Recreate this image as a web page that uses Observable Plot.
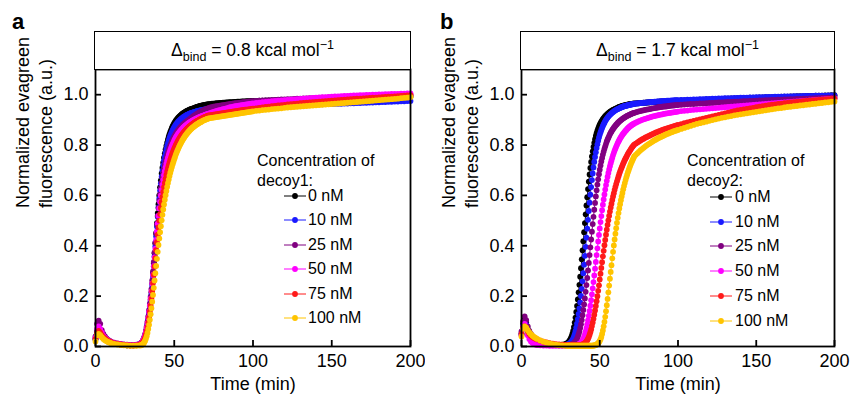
<!DOCTYPE html>
<html><head><meta charset="utf-8">
<script src="https://cdn.jsdelivr.net/npm/d3@7"></script>
<script src="https://cdn.jsdelivr.net/npm/@observablehq/plot@0.6"></script>
<style>
body{margin:0;background:#fff;font-family:"Liberation Sans",Arial,Helvetica,sans-serif;color:#000;}
#fig{position:relative;width:850px;height:395px;overflow:hidden;background:#fff;}
.panel{position:absolute;top:0;width:425px;height:395px;}
.panel > svg{position:absolute;left:0;top:0;}
.letter{position:absolute;font-weight:bold;font-size:22px;line-height:22px;}
.titlebox{position:absolute;box-sizing:border-box;border:1.8px solid #000;display:flex;align-items:center;justify-content:center;font-size:17.5px;background:#fff;}
.titlebox sub,.titlebox sup{font-size:12.5px;line-height:0;}
.legtitle{position:absolute;font-size:16px;line-height:20px;white-space:nowrap;}
.legrow{position:absolute;display:flex;align-items:center;height:20px;font-size:16px;white-space:nowrap;}
.legrow svg{flex:none;display:block;}
#err{position:absolute;left:0;top:0;color:red;font-size:12px;}
</style></head>
<body>
<div id="fig"></div>
<script>
// ---- data ----
const TIME = [0,1,2,3,4,5,6,7,8,9,10,
12,14,16,18,20,22,24,26,28,
29,29.5,30,30.5,31,31.5,32,32.5,33,33.5,
34,34.5,35,35.5,36,36.5,37,37.5,38,38.5,
39,39.5,40,40.5,41,41.5,42,42.5,43,43.5,
44,44.5,45,45.5,46,46.5,47,47.5,48,48.5,
49,49.5,50,50.5,51,51.5,52,52.5,53,53.5,
54,54.5,55,55.5,56,56.5,57,57.5,58,58.5,
59,59.5,60,60.5,61,61.5,62,62.5,63,63.5,
64,64.5,65,65.5,66,66.5,67,67.5,68,68.5,
69,69.5,70,70.5,71,71.5,72,
73,74,75,76,77,78,79,80,81,82,83,84,85,86,87,88,89,90,91,92,93,94,95,96,97,98,99,100,
102,104,106,108,110,112,114,116,118,120,
122,124,126,128,130,132,134,136,138,140,
142,144,146,148,150,152,154,156,158,160,
162,164,166,168,170,172,174,176,178,180,
182,184,186,188,190,192,194,196,198,200];

const CONCENTRATIONS = ["0 nM","10 nM","25 nM","50 nM","75 nM","100 nM"];
const COLORS = ["#000000","#1a1aff","#800080","#ff00ff","#ff1a1a","#ffc400"];
const X_TICKS = [0,50,100,150,200];
const Y_TICKS = [0,0.2,0.4,0.6,0.8,1.0];

// Panel a: decoy1
const a0 = [0.03,0.06,0.07,0.06,0.045,0.035,0.03,0.025,0.02,0.018,0.015,
0.012,0.01,0.008,0.006,0.005,0.005,0.005,0.006,0.01,
0.013,0.016,0.02,0.027,0.035,0.045,0.058,0.073,0.09,0.11,
0.133,0.158,0.185,0.215,0.25,0.29,0.33,0.37,0.41,0.45,
0.49,0.53,0.565,0.6,0.632,0.66,0.687,0.71,0.73,0.75,
0.767,0.783,0.797,0.81,0.822,0.833,0.843,0.852,0.86,0.868,
0.875,0.881,0.887,0.892,0.897,0.901,0.905,0.909,0.912,0.915,
0.918,0.921,0.924,0.926,0.928,0.93,0.932,0.934,0.936,0.937,
0.939,0.94,0.942,0.943,0.944,0.945,0.946,0.947,0.948,0.949,
0.95,0.951,0.952,0.953,0.954,0.955,0.956,0.956,0.957,0.958,
0.958,0.959,0.96,0.96,0.961,0.961,0.962,
0.963,0.964,0.964,0.965,0.966,0.966,0.967,0.967,0.968,0.968,0.969,0.969,0.97,0.97,0.97,0.971,0.971,0.972,0.972,0.972,0.973,0.973,0.973,0.974,0.974,0.974,0.975,0.975,
0.975,0.976,0.976,0.977,0.977,0.977,0.978,0.978,0.978,0.979,
0.979,0.979,0.98,0.98,0.98,0.981,0.981,0.981,0.982,0.982,
0.982,0.983,0.983,0.983,0.984,0.984,0.984,0.985,0.985,0.985,
0.986,0.986,0.986,0.987,0.987,0.987,0.988,0.988,0.988,0.989,
0.989,0.989,0.99,0.99,0.99,0.99,0.991,0.991,0.991,0.992];

const a10 = [0.03,0.06,0.07,0.06,0.045,0.035,0.03,0.025,0.02,0.018,0.015,
0.012,0.01,0.008,0.006,0.005,0.005,0.005,0.006,0.009,
0.012,0.015,0.019,0.025,0.032,0.042,0.054,0.068,0.085,0.104,
0.126,0.15,0.177,0.206,0.24,0.278,0.318,0.358,0.398,0.438,
0.477,0.515,0.552,0.587,0.619,0.648,0.674,0.698,0.719,0.738,
0.755,0.77,0.784,0.797,0.808,0.818,0.828,0.837,0.845,0.852,
0.859,0.865,0.871,0.876,0.881,0.885,0.889,0.893,0.896,0.899,
0.902,0.905,0.907,0.91,0.912,0.914,0.916,0.918,0.92,0.921,
0.923,0.924,0.926,0.927,0.928,0.929,0.93,0.931,0.932,0.933,
0.934,0.935,0.936,0.937,0.937,0.938,0.939,0.939,0.94,0.941,
0.941,0.942,0.942,0.943,0.943,0.944,0.944,
0.945,0.945,0.946,0.946,0.947,0.947,0.948,0.948,0.948,0.949,0.949,0.95,0.95,0.95,0.951,0.951,0.951,0.952,0.952,0.952,0.953,0.953,0.953,0.954,0.954,0.954,0.955,0.955,
0.955,0.956,0.956,0.956,0.957,0.957,0.957,0.958,0.958,0.958,
0.959,0.959,0.959,0.96,0.96,0.96,0.961,0.961,0.961,0.962,
0.962,0.962,0.963,0.963,0.963,0.964,0.964,0.964,0.965,0.965,
0.966,0.966,0.967,0.967,0.968,0.968,0.969,0.969,0.97,0.97,
0.971,0.971,0.972,0.972,0.973,0.973,0.974,0.974,0.975,0.975];

const a25 = [0.04,0.09,0.103,0.09,0.065,0.05,0.04,0.032,0.026,0.022,0.019,
0.015,0.012,0.01,0.008,0.007,0.006,0.006,0.007,0.01,
0.013,0.017,0.022,0.029,0.038,0.049,0.063,0.079,0.098,0.12,
0.144,0.17,0.198,0.228,0.262,0.298,0.336,0.374,0.412,0.449,
0.485,0.519,0.55,0.579,0.605,0.629,0.651,0.671,0.689,0.706,
0.721,0.735,0.748,0.76,0.771,0.781,0.79,0.799,0.807,0.814,
0.821,0.828,0.834,0.84,0.845,0.85,0.855,0.859,0.863,0.867,
0.871,0.874,0.878,0.881,0.884,0.887,0.889,0.892,0.894,0.897,
0.899,0.901,0.904,0.906,0.909,0.911,0.914,0.916,0.918,0.92,
0.922,0.924,0.926,0.928,0.93,0.931,0.933,0.935,0.936,0.938,
0.939,0.941,0.942,0.943,0.945,0.946,0.947,
0.949,0.95,0.952,0.953,0.954,0.955,0.956,0.957,0.958,0.959,0.96,0.961,0.962,0.963,0.964,0.965,0.966,0.966,0.967,0.968,0.969,0.97,0.97,0.971,0.972,0.973,0.973,0.974,
0.975,0.976,0.977,0.977,0.978,0.979,0.979,0.98,0.981,0.981,
0.982,0.982,0.983,0.984,0.984,0.985,0.985,0.986,0.986,0.987,
0.987,0.988,0.988,0.989,0.989,0.99,0.99,0.991,0.991,0.992,
0.992,0.993,0.993,0.993,0.994,0.994,0.995,0.995,0.995,0.996,
0.996,0.997,0.997,0.997,0.998,0.998,0.998,0.999,0.999,1.0];

const a50 = [0.035,0.07,0.08,0.07,0.055,0.042,0.034,0.028,0.023,0.02,0.017,
0.013,0.011,0.009,0.007,0.006,0.005,0.005,0.006,0.009,
0.012,0.016,0.021,0.027,0.035,0.046,0.059,0.075,0.093,0.114,
0.137,0.162,0.19,0.219,0.25,0.284,0.319,0.354,0.389,0.423,
0.457,0.489,0.519,0.548,0.574,0.599,0.622,0.643,0.662,0.68,
0.696,0.711,0.725,0.738,0.75,0.761,0.771,0.78,0.789,0.797,
0.804,0.811,0.818,0.824,0.83,0.835,0.84,0.845,0.849,0.853,
0.857,0.861,0.864,0.868,0.871,0.874,0.877,0.879,0.882,0.884,
0.887,0.889,0.891,0.893,0.895,0.897,0.899,0.9,0.902,0.904,
0.905,0.907,0.908,0.91,0.911,0.912,0.914,0.915,0.916,0.917,
0.918,0.92,0.921,0.922,0.923,0.924,0.925,
0.928,0.93,0.932,0.934,0.936,0.938,0.939,0.941,0.943,0.944,0.946,0.947,0.949,0.95,0.951,0.953,0.954,0.955,0.956,0.957,0.958,0.959,0.96,0.961,0.962,0.963,0.964,0.965,
0.967,0.968,0.97,0.971,0.972,0.974,0.975,0.976,0.977,0.978,
0.979,0.98,0.981,0.982,0.983,0.984,0.985,0.986,0.987,0.988,
0.989,0.99,0.99,0.991,0.992,0.993,0.993,0.994,0.995,0.995,
0.996,0.997,0.997,0.998,0.998,0.999,0.999,1.0,1.0,1.001,
1.001,1.002,1.002,1.003,1.003,1.003,1.004,1.004,1.005,1.005];

const a75 = [0.03,0.055,0.062,0.055,0.045,0.037,0.031,0.026,0.022,0.019,0.016,
0.012,0.01,0.008,0.006,0.005,0.004,0.004,0.005,0.007,
0.009,0.012,0.016,0.021,0.028,0.037,0.048,0.061,0.077,0.095,
0.115,0.138,0.163,0.19,0.22,0.252,0.285,0.318,0.351,0.383,
0.414,0.444,0.473,0.5,0.526,0.55,0.573,0.594,0.614,0.633,
0.65,0.666,0.681,0.695,0.708,0.72,0.731,0.742,0.752,0.761,
0.77,0.778,0.786,0.793,0.8,0.806,0.812,0.818,0.823,0.828,
0.833,0.838,0.842,0.846,0.85,0.854,0.857,0.861,0.864,0.867,
0.87,0.873,0.876,0.878,0.881,0.883,0.885,0.888,0.89,0.892,
0.894,0.896,0.897,0.899,0.901,0.903,0.904,0.906,0.907,0.909,
0.91,0.912,0.913,0.914,0.916,0.917,0.918,
0.919,0.92,0.921,0.922,0.923,0.924,0.925,0.926,0.927,0.928,0.929,0.93,0.931,0.932,0.933,0.934,0.935,0.936,0.937,0.938,0.939,0.94,0.941,0.941,0.942,0.943,0.944,0.945,
0.946,0.948,0.949,0.951,0.952,0.954,0.955,0.957,0.958,0.959,
0.961,0.962,0.963,0.964,0.966,0.967,0.968,0.969,0.97,0.971,
0.972,0.973,0.974,0.975,0.976,0.977,0.978,0.979,0.98,0.981,
0.982,0.983,0.984,0.984,0.985,0.986,0.987,0.988,0.988,0.989,
0.99,0.991,0.992,0.992,0.993,0.994,0.995,0.996,0.997,0.998];

const a100 = [0.02,0.045,0.05,0.045,0.037,0.03,0.025,0.021,0.018,0.015,0.013,
0.01,0.008,0.006,0.005,0.004,0.003,0.003,0.003,0.004,
0.005,0.007,0.009,0.012,0.017,0.023,0.031,0.041,0.054,0.069,
0.086,0.106,0.128,0.152,0.178,0.205,0.233,0.262,0.291,0.32,
0.348,0.376,0.403,0.429,0.454,0.478,0.501,0.523,0.544,0.564,
0.583,0.601,0.618,0.634,0.649,0.663,0.677,0.69,0.702,0.713,
0.724,0.734,0.744,0.753,0.762,0.77,0.778,0.785,0.792,0.799,
0.805,0.811,0.817,0.822,0.827,0.832,0.837,0.841,0.845,0.849,
0.853,0.856,0.86,0.863,0.866,0.869,0.871,0.874,0.876,0.879,
0.881,0.883,0.885,0.887,0.889,0.891,0.892,0.894,0.896,0.897,
0.899,0.9,0.901,0.903,0.904,0.905,0.906,
0.907,0.908,0.909,0.91,0.911,0.912,0.913,0.914,0.915,0.916,0.917,0.918,0.919,0.92,0.921,0.922,0.923,0.924,0.925,0.926,0.927,0.928,0.929,0.93,0.931,0.932,0.933,0.934,
0.936,0.937,0.939,0.94,0.941,0.943,0.944,0.945,0.946,0.948,
0.949,0.95,0.951,0.952,0.953,0.954,0.955,0.956,0.957,0.958,
0.959,0.96,0.961,0.962,0.963,0.964,0.965,0.966,0.967,0.968,
0.969,0.97,0.971,0.972,0.973,0.974,0.975,0.976,0.977,0.978,
0.979,0.98,0.981,0.982,0.983,0.984,0.986,0.987,0.988,0.99];

// Panel b: decoy2
const b0 = [0.05,0.09,0.11,0.095,0.07,0.055,0.045,0.037,0.031,0.027,0.023,
0.018,0.014,0.011,0.009,0.007,0.006,0.006,0.007,0.01,
0.012,0.014,0.017,0.021,0.026,0.032,0.04,0.05,0.062,0.077,
0.095,0.115,0.137,0.161,0.187,0.215,0.245,0.277,0.311,0.346,
0.382,0.418,0.454,0.49,0.525,0.56,0.593,0.625,0.655,0.683,
0.709,0.733,0.755,0.775,0.793,0.809,0.823,0.836,0.847,0.857,
0.866,0.874,0.881,0.887,0.893,0.898,0.903,0.907,0.911,0.915,
0.918,0.921,0.924,0.927,0.929,0.932,0.934,0.936,0.938,0.94,
0.941,0.943,0.944,0.946,0.947,0.948,0.95,0.951,0.952,0.953,
0.954,0.955,0.956,0.957,0.957,0.958,0.959,0.96,0.96,0.961,
0.962,0.962,0.963,0.963,0.964,0.964,0.965,
0.965,0.966,0.966,0.967,0.967,0.968,0.968,0.969,0.969,0.97,0.97,0.971,0.971,0.971,0.972,0.972,0.973,0.973,0.973,0.974,0.974,0.974,0.975,0.975,0.975,0.976,0.976,0.976,
0.977,0.977,0.978,0.978,0.979,0.979,0.98,0.98,0.981,0.981,
0.982,0.982,0.983,0.983,0.984,0.984,0.985,0.985,0.986,0.986,
0.987,0.987,0.988,0.988,0.988,0.989,0.989,0.99,0.99,0.99,
0.991,0.991,0.992,0.992,0.992,0.993,0.993,0.994,0.994,0.994,
0.995,0.995,0.995,0.996,0.996,0.996,0.997,0.997,0.998,0.998];

const b10 = [0.05,0.085,0.1,0.088,0.066,0.052,0.043,0.036,0.03,0.026,0.022,
0.017,0.013,0.01,0.008,0.007,0.006,0.005,0.005,0.006,
0.007,0.008,0.009,0.011,0.013,0.016,0.02,0.025,0.031,0.039,
0.049,0.061,0.075,0.091,0.109,0.129,0.151,0.175,0.201,0.229,
0.259,0.291,0.325,0.36,0.396,0.432,0.468,0.503,0.538,0.571,
0.603,0.633,0.661,0.687,0.711,0.733,0.753,0.771,0.788,0.803,
0.817,0.83,0.841,0.851,0.86,0.868,0.876,0.883,0.889,0.895,
0.9,0.905,0.909,0.913,0.917,0.92,0.923,0.926,0.929,0.931,
0.934,0.936,0.938,0.94,0.942,0.943,0.945,0.946,0.948,0.949,
0.95,0.951,0.953,0.954,0.955,0.956,0.956,0.957,0.958,0.959,
0.96,0.96,0.961,0.962,0.962,0.963,0.964,
0.965,0.965,0.966,0.967,0.967,0.968,0.968,0.969,0.97,0.97,0.971,0.971,0.972,0.972,0.973,0.973,0.974,0.974,0.975,0.975,0.976,0.976,0.976,0.977,0.977,0.978,0.978,0.978,
0.979,0.979,0.98,0.98,0.981,0.981,0.982,0.982,0.983,0.983,
0.984,0.984,0.985,0.985,0.986,0.986,0.986,0.987,0.987,0.988,
0.988,0.988,0.989,0.989,0.99,0.99,0.99,0.991,0.991,0.991,
0.992,0.992,0.992,0.993,0.993,0.993,0.994,0.994,0.994,0.995,
0.995,0.995,0.995,0.996,0.996,0.996,0.996,0.997,0.997,0.997];

const b25 = [0.06,0.1,0.12,0.105,0.08,0.062,0.05,0.041,0.034,0.029,0.025,
0.019,0.015,0.011,0.009,0.007,0.006,0.005,0.005,0.005,
0.005,0.005,0.005,0.006,0.006,0.007,0.008,0.009,0.011,0.013,
0.016,0.02,0.025,0.031,0.039,0.049,0.06,0.073,0.088,0.105,
0.124,0.145,0.167,0.191,0.217,0.244,0.272,0.302,0.332,0.363,
0.394,0.425,0.456,0.486,0.515,0.543,0.57,0.596,0.62,0.643,
0.664,0.684,0.702,0.719,0.735,0.749,0.762,0.774,0.785,0.795,
0.805,0.814,0.822,0.829,0.836,0.843,0.849,0.854,0.86,0.864,
0.869,0.873,0.877,0.881,0.884,0.888,0.891,0.894,0.896,0.899,
0.901,0.904,0.906,0.908,0.91,0.912,0.914,0.916,0.917,0.919,
0.92,0.922,0.923,0.925,0.926,0.927,0.928,
0.93,0.932,0.934,0.935,0.937,0.938,0.94,0.941,0.942,0.943,0.945,0.946,0.947,0.948,0.949,0.95,0.951,0.952,0.953,0.953,0.954,0.955,0.956,0.957,0.957,0.958,0.959,0.959,
0.96,0.961,0.962,0.963,0.963,0.964,0.965,0.965,0.966,0.967,
0.967,0.968,0.969,0.969,0.97,0.971,0.971,0.972,0.972,0.973,
0.974,0.974,0.975,0.975,0.976,0.977,0.977,0.978,0.978,0.979,
0.979,0.98,0.98,0.981,0.981,0.982,0.982,0.983,0.983,0.984,
0.984,0.985,0.985,0.986,0.986,0.987,0.987,0.988,0.988,0.989];

const b50 = [0.045,0.08,0.09,0.07,0.045,0.03,0.02,0.014,0.01,0.008,0.006,
0.005,0.004,0.004,0.003,0.003,0.003,0.003,0.003,0.003,
0.003,0.003,0.003,0.003,0.003,0.003,0.003,0.003,0.004,0.004,
0.004,0.005,0.005,0.006,0.007,0.008,0.01,0.012,0.015,0.019,
0.024,0.03,0.038,0.048,0.06,0.073,0.088,0.104,0.122,0.141,
0.162,0.184,0.207,0.231,0.256,0.282,0.309,0.336,0.363,0.39,
0.417,0.443,0.469,0.494,0.518,0.541,0.563,0.584,0.604,0.623,
0.641,0.658,0.674,0.689,0.703,0.716,0.728,0.739,0.75,0.76,
0.769,0.778,0.786,0.794,0.801,0.808,0.814,0.82,0.826,0.831,
0.836,0.841,0.845,0.849,0.853,0.857,0.86,0.864,0.867,0.87,
0.873,0.875,0.878,0.88,0.882,0.884,0.886,
0.889,0.892,0.895,0.897,0.9,0.902,0.904,0.906,0.908,0.91,0.912,0.914,0.915,0.917,0.918,0.92,0.921,0.922,0.924,0.925,0.926,0.927,0.928,0.929,0.93,0.931,0.932,0.933,
0.935,0.936,0.937,0.939,0.94,0.941,0.942,0.943,0.944,0.945,
0.946,0.947,0.948,0.949,0.95,0.951,0.952,0.953,0.954,0.955,
0.956,0.957,0.958,0.959,0.96,0.961,0.962,0.963,0.964,0.965,
0.966,0.967,0.968,0.969,0.97,0.971,0.972,0.973,0.974,0.975,
0.976,0.977,0.978,0.979,0.98,0.981,0.982,0.983,0.984,0.985];

const b75 = [0.05,0.075,0.08,0.072,0.06,0.05,0.043,0.038,0.034,0.031,0.028,
0.023,0.019,0.016,0.013,0.011,0.009,0.008,0.007,0.006,
0.006,0.006,0.005,0.005,0.005,0.005,0.005,0.005,0.005,0.005,
0.005,0.005,0.005,0.005,0.005,0.005,0.005,0.006,0.006,0.007,
0.008,0.009,0.011,0.013,0.016,0.02,0.025,0.031,0.038,0.047,
0.057,0.068,0.081,0.095,0.11,0.126,0.143,0.161,0.18,0.2,
0.221,0.243,0.266,0.289,0.312,0.335,0.358,0.38,0.402,0.423,
0.444,0.464,0.483,0.501,0.519,0.536,0.552,0.567,0.582,0.596,
0.609,0.622,0.634,0.645,0.656,0.666,0.676,0.686,0.695,0.703,
0.711,0.719,0.727,0.734,0.741,0.747,0.753,0.759,0.765,0.77,
0.775,0.78,0.785,0.79,0.794,0.798,0.802,
0.806,0.81,0.814,0.818,0.822,0.825,0.829,0.832,0.835,0.838,0.841,0.844,0.847,0.85,0.852,0.855,0.857,0.86,0.862,0.864,0.866,0.868,0.87,0.872,0.874,0.876,0.878,0.88,
0.883,0.887,0.89,0.893,0.896,0.899,0.902,0.905,0.908,0.911,
0.914,0.917,0.92,0.923,0.926,0.929,0.932,0.935,0.938,0.94,
0.942,0.944,0.946,0.948,0.95,0.952,0.954,0.956,0.958,0.96,
0.961,0.963,0.964,0.966,0.967,0.969,0.97,0.971,0.972,0.974,
0.975,0.976,0.977,0.978,0.979,0.98,0.981,0.982,0.983,0.984];

const b100 = [0.04,0.07,0.08,0.075,0.065,0.056,0.049,0.043,0.038,0.034,0.03,
0.024,0.019,0.015,0.012,0.009,0.007,0.005,0.004,0.003,
0.003,0.003,0.003,0.003,0.003,0.003,0.003,0.003,0.003,0.003,
0.003,0.003,0.003,0.003,0.003,0.003,0.003,0.003,0.003,0.003,
0.003,0.003,0.003,0.003,0.003,0.003,0.003,0.003,0.003,0.003,
0.003,0.003,0.003,0.003,0.004,0.004,0.005,0.006,0.008,0.01,
0.013,0.017,0.022,0.029,0.038,0.05,0.064,0.08,0.098,0.118,
0.14,0.164,0.189,0.215,0.242,0.269,0.296,0.323,0.35,0.376,
0.401,0.425,0.448,0.47,0.491,0.511,0.53,0.548,0.565,0.581,
0.596,0.61,0.624,0.637,0.649,0.661,0.672,0.682,0.692,0.701,
0.71,0.719,0.727,0.734,0.741,0.748,0.755,
0.761,0.767,0.773,0.779,0.784,0.789,0.794,0.799,0.803,0.807,0.811,0.815,0.819,0.822,0.826,0.829,0.832,0.835,0.838,0.841,0.844,0.846,0.849,0.851,0.854,0.856,0.858,0.86,
0.864,0.868,0.872,0.876,0.88,0.884,0.887,0.89,0.893,0.896,
0.899,0.902,0.905,0.908,0.91,0.913,0.915,0.918,0.92,0.922,
0.924,0.926,0.928,0.93,0.932,0.934,0.936,0.938,0.94,0.942,
0.944,0.946,0.947,0.949,0.951,0.952,0.954,0.955,0.957,0.958,
0.96,0.961,0.963,0.964,0.966,0.967,0.969,0.97,0.972,0.973];

const PANEL_A_SERIES = [a0,a10,a25,a50,a75,a100];
const PANEL_B_SERIES = [b0,b10,b25,b50,b75,b100];

// ---- drawing ----
const FONT = '"Liberation Sans", Arial, Helvetica, sans-serif';
const fig = document.getElementById("fig");
const W = 425, H = 395, MT = 69, MB = 49, TICK = 6;

function buildRows(seriesList) {
  const rows = [];
  seriesList.forEach((vals, k) => {
    vals.forEach((v, i) => rows.push({t: TIME[i], v, c: CONCENTRATIONS[k]}));
  });
  return rows;
}

function makePlot(seriesList, mL, mR) {
  const rows = buildRows(seriesList);
  const plotW = W - mL - mR, plotH = H - MT - MB;
  return Plot.plot({
    width: W, height: H,
    marginLeft: mL, marginRight: mR, marginTop: MT, marginBottom: MB,
    style: {fontFamily: FONT, fontSize: "18px", background: "transparent", color: "#000"},
    x: {domain: [0, 200]},
    y: {domain: [0, 1.1]},
    color: {domain: CONCENTRATIONS, range: COLORS},
    marks: [
      Plot.line(rows, {x: "t", y: "v", z: "c", stroke: "c", strokeWidth: 1}),
      Plot.dot(rows, {x: "t", y: "v", fill: "c", r: 2.9}),
      Plot.frame({stroke: "#000", strokeWidth: 1.8}),
      // inward tick marks
      Plot.ruleX(X_TICKS, {x: d => d, insetTop: plotH - TICK, stroke: "#000", strokeWidth: 1.8}),
      Plot.ruleY(Y_TICKS, {y: d => d, insetRight: plotW - TICK, stroke: "#000", strokeWidth: 1.8}),
      Plot.axisX({ticks: X_TICKS, tickSize: 0, tickPadding: 8, label: null, tickFormat: d => String(d), fontSize: 18}),
      Plot.axisY({ticks: Y_TICKS, tickSize: 0, tickPadding: 7, label: null, tickFormat: d => d.toFixed(1), fontSize: 18}),
      Plot.text(["Normalized evagreen\nfluorescence (a.u.)"], {frameAnchor: "left", rotate: -90, dx: -62, lineHeight: 1.25, fontSize: 18}),
      Plot.text(["Time (min)"], {frameAnchor: "bottom", dy: 43, fontSize: 18})
    ]
  });
}

function addPanel(opts) {
  const p = document.createElement("div");
  p.className = "panel";
  p.style.left = opts.left + "px";
  fig.appendChild(p);
  p.appendChild(makePlot(opts.series, opts.mL, opts.mR));

  const L = document.createElement("div");
  L.className = "letter"; L.textContent = opts.letter;
  L.style.left = opts.letterX + "px"; L.style.top = "11px";
  p.appendChild(L);

  const T = document.createElement("div");
  T.className = "titlebox";
  T.style.left = (opts.mL - 0.9) + "px";
  T.style.width = (W - opts.mL - opts.mR + 1.8) + "px";
  T.style.top = "31.2px"; T.style.height = "38.7px";
  T.innerHTML = '<span>\u0394<sub>bind</sub> = ' + opts.dg + ' kcal mol<sup>\u22121</sup></span>';
  p.appendChild(T);

  const LT = document.createElement("div");
  LT.className = "legtitle";
  LT.style.left = opts.legTitleX + "px"; LT.style.top = "150.5px";
  LT.innerHTML = "Concentration of<br>" + opts.decoy + ":";
  p.appendChild(LT);

  CONCENTRATIONS.forEach((name, k) => {
    const r = document.createElement("div");
    r.className = "legrow";
    r.style.left = opts.legX + "px";
    r.style.top = (opts.legY0 + k * opts.legDy - 10) + "px";
    r.innerHTML = '<svg width="22" height="10" style="overflow:visible"><line x1="0" x2="22" y1="5" y2="5" stroke="' + COLORS[k] + '" stroke-width="1"/><circle cx="11" cy="5" r="2.9" fill="' + COLORS[k] + '"/></svg><span style="margin-left:' + opts.legGap + 'px">' + name + '</span>';
    p.appendChild(r);
  });
}

const bad = [...PANEL_A_SERIES, ...PANEL_B_SERIES].map((s, i) => [i, s.length]).filter(([i, n]) => n !== TIME.length);
addPanel({left: 0, series: PANEL_A_SERIES, mL: 95, mR: 15, letter: "a", letterX: 12, dg: "0.8", decoy: "decoy1",
  legTitleX: 257, legX: 284, legY0: 196, legDy: 24.4, legGap: 2});
addPanel({left: 425, series: PANEL_B_SERIES, mL: 96, mR: 16, letter: "b", letterX: 15, dg: "1.7", decoy: "decoy2",
  legTitleX: 262, legX: 285, legY0: 197, legDy: 24.7, legGap: 3});
if (bad.length) {
  const e = document.createElement("div"); e.id = "err";
  e.textContent = "LEN MISMATCH " + TIME.length + ": " + JSON.stringify(bad);
  fig.appendChild(e);
}
</script>
</body></html>
